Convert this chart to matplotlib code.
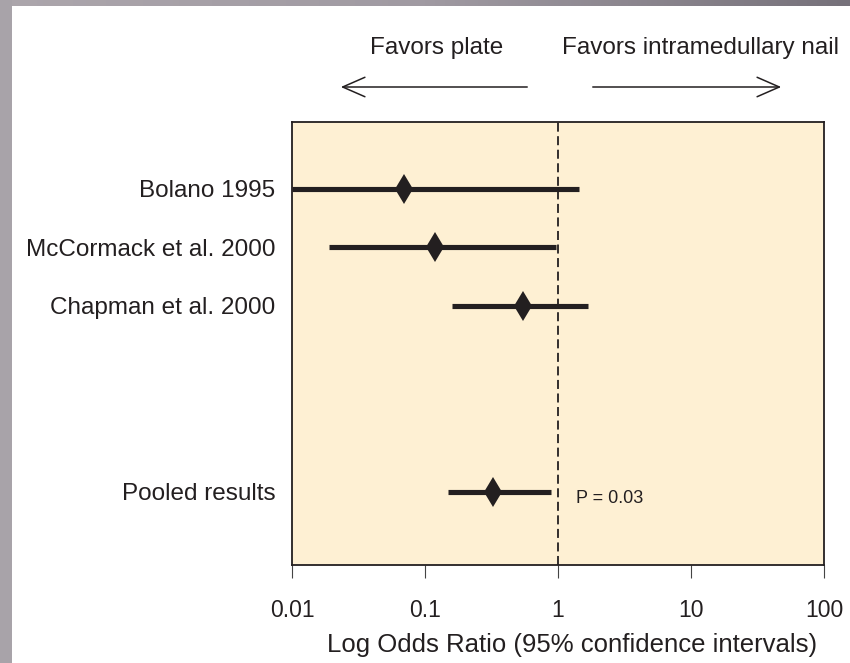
import numpy as np
import matplotlib.pyplot as plt
from matplotlib.colors import LinearSegmentedColormap
from matplotlib.patches import FancyArrowPatch

# data
studies = ['Bolano 1995', 'McCormack et al. 2000', 'Chapman et al. 2000', 'Pooled results']
odds = [0.07, 0.119, 0.546, 0.324]
ci_low = [0.01, 0.019, 0.16, 0.149]
ci_high = [1.44, 0.967, 1.68, 0.885]
xticks = [0.01, 0.1, 1, 10, 100]
xtick_labels = ['0.01', '0.1', '1', '10', '100']
p_text = 'P = 0.03'

plt.rcParams['font.family'] = ['Liberation Sans', 'DejaVu Sans']
ink = '#231f20'

fig = plt.figure(figsize=(8.5, 6.63), dpi=100)
fig.patch.set_facecolor('white')

# gray slide frame: left strip and top gradient strip
W, H = 850, 663
fig.add_artist(plt.Rectangle((0, 0), 12 / W, 1, transform=fig.transFigure,
                             color='#a8a3a9', lw=0))
top_strip = fig.add_axes([0, 1 - 6 / H, 1, 6 / H])
top_strip.set_axis_off()
grad = np.linspace(0, 1, 256).reshape(1, -1)
cm = LinearSegmentedColormap.from_list('frame', ['#aca6ac', '#a09aa2', '#76717a'])
top_strip.imshow(grad, cmap=cm, aspect='auto', extent=[0, 1, 0, 1])

ax = fig.add_axes([292 / W, 1 - 565 / H, (824 - 292) / W, (565 - 122) / H])
ax.set_facecolor('#fef0d3')

ypos = [0, 1, 2, 5.18]
for i in range(len(studies)):
    ax.plot([ci_low[i], ci_high[i]], [ypos[i], ypos[i]], color=ink,
            lw=3.7, solid_capstyle='butt', zorder=3)
    ax.plot(odds[i], ypos[i], marker='d', color=ink, markersize=15,
            markeredgewidth=0, zorder=4)

ax.axvline(1, color=ink, lw=1.3, ls=(0, (5, 2.5)), zorder=2)

ax.set_xscale('log')
ax.set_xlim(0.01, 100)
ax.set_ylim(6.43, -1.145)
ax.set_xticks(xticks)
ax.set_xticklabels(xtick_labels, fontsize=16.5)
ax.minorticks_off()
ax.tick_params(axis='x', direction='out', length=9.5, width=0.8, color='#444444',
               pad=15, labelcolor=ink)
ax.set_yticks(ypos)
ax.set_yticklabels(studies, fontsize=17.5, color=ink)
ax.tick_params(axis='y', length=0, pad=12)
for s in ax.spines.values():
    s.set_linewidth(1.3)
    s.set_color(ink)

ax.set_xlabel('Log Odds Ratio (95% confidence intervals)', fontsize=18.5,
              color=ink, labelpad=8, x=0.526)
ax.text(1.37, ypos[3] + 0.12, p_text, fontsize=13, color=ink, va='center')

# direction labels and arrows above the plot
fig.text(437 / W, 1 - 48 / H, 'Favors plate', fontsize=17.5, ha='center',
         va='center', color=ink)
fig.text(701 / W, 1 - 48 / H, 'Favors intramedullary nail', fontsize=17.5,
         ha='center', va='center', color=ink)
for start, end in [((530, 87), (338, 87)), ((590, 87), (784, 87))]:
    fig.add_artist(FancyArrowPatch(
        (start[0] / W, 1 - start[1] / H), (end[0] / W, 1 - end[1] / H),
        transform=fig.transFigure, arrowstyle='->,head_length=16,head_width=7',
        mutation_scale=1, lw=1.1, color=ink))

fig.savefig('out.png', dpi=100)
